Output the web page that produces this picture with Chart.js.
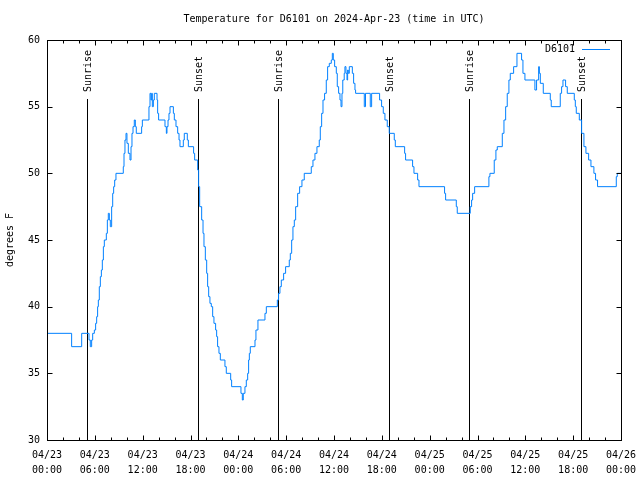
<!DOCTYPE html>
<html><head><meta charset="utf-8">
<script src="https://cdn.jsdelivr.net/npm/chart.js@4/dist/chart.umd.min.js"></script>
<style>html,body{margin:0;padding:0;background:#fff}#wrap{width:640px;height:480px}</style>
</head><body><div id="wrap"><canvas id="c" width="640" height="480"></canvas></div>
<script>
// ---- data (hours since 2024-04-23 00:00 UTC, degrees F) ----
const hours = [
 0,3.09,4.35,5.27,5.43,5.6,5.73,5.94,6.1,6.23,6.35,6.44,6.56,6.69,6.82,6.94,7.07,7.19,7.44,7.57,7.69,7.82,7.94,8.11,8.24,8.36,8.49,8.65,
 9.57,9.66,9.78,9.91,10.03,10.2,10.41,10.54,10.66,10.79,10.95,11.08,11.2,11.87,11.96,12.79,12.92,13.04,13.13,13.21,13.34,13.46,13.8,13.88,14.0,
 14.8,14.97,15.05,15.18,15.3,15.43,15.85,15.97,16.18,16.39,16.56,16.68,17.1,17.22,17.6,17.73,18.39,18.52,
 18.9,19.02,19.15,19.4,19.57,19.69,19.86,20.03,20.15,20.28,20.44,20.61,20.78,20.94,21.15,21.28,21.4,21.57,21.74,22.32,22.49,23.04,23.16,
 24.33,24.5,24.62,24.83,25.0,25.17,25.29,25.38,25.5,26.09,26.21,26.46,27.34,27.51,28.89,29.05,29.22,29.39,29.68,29.93,30.39,30.52,30.69,30.85,
 31.02,31.19,31.44,31.69,31.98,32.27,33.15,33.36,33.61,33.86,34.15,34.28,34.45,34.62,34.82,35.03,35.2,35.41,35.66,35.79,35.91,36.08,36.29,36.41,
 36.58,36.75,36.88,37.0,37.1,37.28,37.37,37.5,37.63,37.71,37.79,37.92,38.3,38.46,38.63,38.71,39.8,39.95,40.55,40.72,41.72,41.97,42.18,42.39,
 42.68,42.93,43.56,43.69,44.86,44.98,45.86,46.03,46.49,46.66,49.87,50.0,51.34,51.46,53.09,53.26,53.39,53.64,
 55.43,55.56,56.1,56.31,56.48,57.11,57.32,57.53,57.73,57.94,58.11,58.53,58.95,59.53,59.7,59.95,61.2,61.41,61.67,61.76,61.88,62.25,63.13,63.25,
 64.38,64.55,64.72,65.05,65.26,66.14,66.27,66.39,66.77,67.06,67.35,67.6,67.94,68.23,68.6,68.81,69.06,71.41,71.53,72
];
const temps = [
 38,37,38,37.5,37,37.5,38,38.25,38.75,39.25,40,40.5,41.5,42.25,42.75,43.5,44.5,45,45.5,46.5,47,46.5,46,47.5,48.5,49,49.5,50,
 50.5,51.5,52.5,53,52.25,51.5,51,52,53,53.5,54,53.5,53,53.5,54,55,56,55.5,56,55,55.5,56,55.5,54.5,54,
 53.5,53,53.5,54,54.5,55,54.5,54,53.5,53,52.5,52,52.5,53,52.5,52,51.5,51,
 50.25,49,47.5,46.5,45.5,44.5,43.5,42.5,41.5,40.75,40.25,40,39.25,38.75,38.25,37.75,37,36.5,36,35.5,35,34.5,34,
 33.5,33,33.5,34,34.5,35,36,36.5,37,37.5,38.25,39,39.5,40,40.5,41,41.5,42,42.5,43,43.5,44,45,46,
 46.5,47.5,48.5,49,49.5,50,50.5,51,51.5,52,52.5,53.5,54.5,55.5,56,57,58,58.25,58.5,59,58.5,58,57.5,56.5,
 56,55.5,55,56,57,57.5,58,57.5,57,57.75,57.5,58,57.5,56.75,56.25,56,55,56,55,56,55.5,55,54.5,54,
 53.5,53,52.5,52,51.5,51,50.5,50,49.5,49,48.5,48,47.5,47,47.5,48,48.5,49,
 49.75,50,51,51.75,52,53,54,55,56,57,57.5,58,59,58.5,57.5,57,56.25,57,58,57.5,56.75,56,55.5,55,
 56,56.5,57,56.5,56,55.5,55,54.5,54,53,52,51.5,51,50.5,50,49.5,49,49.75,50,50
];
const sunriseHours = [5.06, 29.02, 52.98];
const sunsetHours = [18.9, 42.95, 66.94];
const xTickDates = ['04/23','04/23','04/23','04/23','04/24','04/24','04/24','04/24','04/25','04/25','04/25','04/25','04/26'];
const xTickTimes = ['00:00','06:00','12:00','18:00','00:00','06:00','12:00','18:00','00:00','06:00','12:00','18:00','00:00'];
const seriesLabel = 'D6101';
const titleText = 'Temperature for D6101 on 2024-Apr-23 (time in UTC)';
const yTitle = 'degrees F';

const FONT = '"DejaVu Sans Mono", monospace';
const LINE_COLOR = '#0080ff';

const points = hours.map((h, i) => ({x: h, y: temps[i]}));

const decor = {
  id: 'decor',
  beforeDatasetsDraw(chart) {
    const ctx = chart.ctx, a = chart.chartArea, xs = chart.scales.x;
    ctx.save();
    ctx.strokeStyle = '#000'; ctx.lineWidth = 1;
    ctx.fillStyle = '#000';
    ctx.font = '10px ' + FONT;
    const draw = (h, txt) => {
      const px = Math.round(xs.getPixelForValue(h)) + 0.5;
      ctx.beginPath(); ctx.moveTo(px, a.top + 59); ctx.lineTo(px, a.bottom); ctx.stroke();
      ctx.save(); ctx.translate(px + 1, a.top + 52); ctx.rotate(-Math.PI / 2);
      ctx.textAlign = 'left'; ctx.textBaseline = 'middle'; ctx.fillText(txt, 0, 0);
      ctx.restore();
    };
    sunriseHours.forEach(h => draw(h, 'Sunrise'));
    sunsetHours.forEach(h => draw(h, 'Sunset'));
    ctx.restore();
  },
  afterDraw(chart) {
    const ctx = chart.ctx, a = chart.chartArea, xs = chart.scales.x, ys = chart.scales.y;
    ctx.save();
    ctx.strokeStyle = '#000'; ctx.lineWidth = 1;
    const L = a.left + 0.5, R = a.right + 0.5, T = a.top + 0.5, B = a.bottom + 0.5;
    ctx.strokeRect(L, T, R - L, B - T);
    ctx.beginPath();
    for (let h = 0; h <= 72; h += 2) {
      const px = Math.round(xs.getPixelForValue(h)) + 0.5;
      const len = (h % 6 === 0) ? 5 : 3;
      ctx.moveTo(px, B); ctx.lineTo(px, B - len);
      ctx.moveTo(px, T); ctx.lineTo(px, T + len);
    }
    for (let v = 30; v <= 60; v += 5) {
      const py = Math.round(ys.getPixelForValue(v)) + 0.5;
      ctx.moveTo(L, py); ctx.lineTo(L + 5, py);
      ctx.moveTo(R, py); ctx.lineTo(R - 5, py);
    }
    ctx.stroke();
    // title
    ctx.fillStyle = '#000';
    ctx.font = '10px ' + FONT;
    ctx.textAlign = 'center'; ctx.textBaseline = 'middle';
    ctx.fillText(titleText, (a.left + a.right) / 2, 19);
    // legend
    ctx.textAlign = 'right';
    ctx.fillText(seriesLabel, a.right - 46, a.top + 9);
    ctx.strokeStyle = LINE_COLOR;
    ctx.beginPath(); ctx.moveTo(a.right - 39, a.top + 9.5); ctx.lineTo(a.right - 11, a.top + 9.5); ctx.stroke();
    ctx.restore();
  }
};

new Chart(document.getElementById('c'), {
  type: 'line',
  data: { datasets: [{
    label: seriesLabel, data: points, borderColor: LINE_COLOR, borderWidth: 1,
    pointRadius: 0, stepped: true, fill: false, tension: 0
  }]},
  options: {
    responsive: false, animation: false, devicePixelRatio: 1,
    layout: { padding: { top: 40, right: 19, bottom: 0, left: 0 } },
    plugins: { legend: { display: false }, title: { display: false }, tooltip: { enabled: false } },
    scales: {
      x: {
        type: 'linear', min: 0, max: 72,
        afterFit(s) { s.height = 40; s.paddingLeft = 0; s.paddingRight = 0; },
        grid: { display: false, drawTicks: false },
        border: { display: false },
        ticks: {
          stepSize: 6, autoSkip: false, maxRotation: 0, padding: 8,
          color: '#000', font: { family: FONT, size: 10, lineHeight: 1.5 },
          callback: (v) => { const i = Math.round(v / 6); return [xTickDates[i], xTickTimes[i]]; }
        }
      },
      y: {
        min: 30, max: 60,
        afterFit(s) { s.width = 47; s.paddingTop = 0; s.paddingBottom = 0; },
        grid: { display: false, drawTicks: false },
        border: { display: false },
        ticks: { stepSize: 5, padding: 7, color: '#000', font: { family: FONT, size: 10 } },
        title: { display: true, text: yTitle, color: '#000', font: { family: FONT, size: 10 }, padding: { top: 4, bottom: 0 } }
      }
    }
  },
  plugins: [decor]
});
</script>
</body></html>
